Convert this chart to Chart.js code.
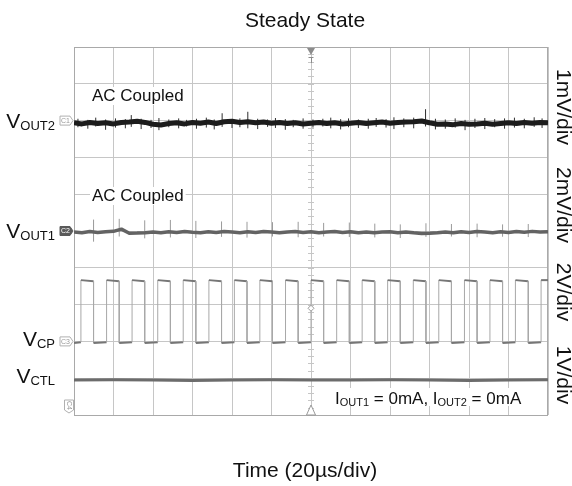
<!DOCTYPE html>
<html>
<head>
<meta charset="utf-8">
<title>Steady State</title>
<script src="https://cdn.jsdelivr.net/npm/chart.js@4.4.1/dist/chart.umd.min.js"></script>
<style>
  html, body { margin: 0; padding: 0; background: #fff; }
  #wrap { width: 572px; height: 486px; }
</style>
</head>
<body>
<div id="wrap"><canvas id="scope" width="572" height="486"></canvas></div>
<script>
// time base: 20 us/div, 12 divisions, trigger in the middle
const sampleTimes = [-120, -116, -112, -108, -104, -100, -96, -92, -88, -84, -80, -76, -72, -68, -64, -60,
  -56, -52, -48, -44, -40, -36, -32, -28, -24, -20, -16, -12, -8, -4, 0, 4, 8, 12, 16, 20, 24, 28, 32,
  36, 40, 44, 48, 52, 56, 60, 64, 68, 72, 76, 80, 84, 88, 92, 96, 100, 104, 108, 112, 116, 120];

// CH1 VOUT2, AC coupled, mV
const vout2Mv = [-0.06, -0.09, -0.05, -0.08, -0.06, -0.09, -0.05, -0.04, -0.02, -0.05, -0.10, -0.12,
  -0.08, -0.06, -0.09, -0.05, -0.07, -0.04, -0.08, -0.03, -0.02, -0.05, -0.03, -0.06, -0.04, -0.07,
  -0.05, -0.08, -0.06, -0.09, -0.07, -0.05, -0.08, -0.06, -0.09, -0.07, -0.05, -0.08, -0.06, -0.04,
  -0.07, -0.05, -0.04, -0.03, -0.01, -0.06, -0.10, -0.09, -0.11, -0.08, -0.10, -0.09, -0.07, -0.10,
  -0.08, -0.06, -0.08, -0.05, -0.07, -0.05, -0.06];
// noise hairs on VOUT2
const vout2HairTimes = [-118, -113, -109, -104, -99, -94, -91, -86, -81, -77, -72, -67, -63, -58, -53,
  -49, -45, -40, -36, -32, -27, -22, -18, -13, -9, -4, 1, 6, 10, 15, 19, 24, 29, 33, 38, 42, 47, 52,
  58, 63, 68, 73, 78, 83, 88, 93, 98, 103, 108, 113, 117];
const vout2HairHighMv = [0.05, 0.02, 0.08, 0.03, 0.06, 0.04, 0.15, 0.05, 0.02, 0.07, 0.03, 0.06, 0.02,
  0.05, 0.08, 0.03, 0.20, 0.04, 0.06, 0.24, 0.05, 0.03, 0.07, 0.04, 0.02, 0.06, 0.03, 0.05, 0.08, 0.04,
  0.06, 0.03, 0.05, 0.07, 0.04, 0.09, 0.06, 0.08, 0.31, 0.05, 0.03, 0.06, 0.02, 0.05, 0.07, 0.04, 0.06,
  0.08, 0.05, 0.09, 0.06];
const vout2HairLowMv = [-0.18, -0.22, -0.16, -0.25, -0.19, -0.21, -0.17, -0.23, -0.20, -0.26, -0.18,
  -0.21, -0.16, -0.22, -0.19, -0.24, -0.17, -0.20, -0.18, -0.21, -0.23, -0.17, -0.20, -0.25, -0.18,
  -0.22, -0.19, -0.16, -0.21, -0.24, -0.18, -0.20, -0.22, -0.17, -0.19, -0.23, -0.18, -0.21, -0.16,
  -0.24, -0.22, -0.19, -0.26, -0.20, -0.23, -0.18, -0.22, -0.19, -0.21, -0.17, -0.20];

// CH2 VOUT1, AC coupled, mV
const vout1Mv = [-0.05, -0.09, -0.03, -0.08, -0.04, -0.02, 0.10, -0.12, -0.11, -0.09, -0.05, -0.09,
  -0.04, -0.08, -0.03, -0.07, -0.09, -0.04, -0.08, -0.03, -0.06, -0.09, -0.04, -0.08, -0.03, -0.06,
  -0.10, -0.05, -0.03, -0.08, -0.04, -0.09, -0.05, -0.03, -0.08, -0.04, -0.09, -0.05, -0.10, -0.06,
  -0.04, -0.09, -0.05, -0.10, -0.13, -0.12, -0.09, -0.05, -0.09, -0.04, -0.08, -0.03, -0.06, -0.09,
  -0.04, -0.08, -0.03, -0.07, -0.02, -0.06, -0.04];
// switching spikes on VOUT1 (at VCP falling edges)
const vout1SpikeHighMv = [0.62, 0.66, 0.58, 0.60, 0.55, 0.52, 0.50, 0.48, 0.50, 0.44, 0.46, 0.40,
  0.36, 0.42, 0.38, 0.40, 0.36, 0.38];
const vout1SpikeLowMv = [-0.58, -0.30, -0.40, -0.35, -0.38, -0.32, -0.36, -0.30, -0.34, -0.30,
  -0.33, -0.35, -0.38, -0.32, -0.30, -0.34, -0.31, -0.33];

// CH3 VCP switching node, V
const vcpRisingUs = [-116.5, -103.5, -90.6, -77.6, -64.7, -51.7, -38.8, -25.9, -12.9, 0, 13.0, 25.9,
  38.8, 51.8, 64.7, 77.7, 90.6, 103.5, 116.5];
const vcpFallingUs = [-110.1, -97.1, -84.2, -71.2, -58.3, -45.3, -32.4, -19.5, -6.5, 6.4, 19.4, 32.3,
  45.2, 58.2, 71.1, 84.1, 97.0, 110.0];
const vcpHighV = [3.33, 3.27];   // start, end of each high phase
const vcpLowV = [-0.09, -0.04];  // start, end of each low phase
const vcpTriggerV = 1.8;

// CH4 VCTL, V
const vctlTimes = [-120, -100, -80, -60, -40, -20, 0, 20, 40, 60, 80, 100, 120];
const vctlV = [0.95, 0.96, 0.95, 0.94, 0.95, 0.96, 0.95, 0.95, 0.96, 0.95, 0.94, 0.95, 0.96];

// channel ground position (div from bottom) and units per div
const CH1 = { pos: 8, perDiv: 1 };
const CH2 = { pos: 5, perDiv: 2 };
const CH3 = { pos: 2, perDiv: 2 };
const CH4 = { pos: 0, perDiv: 1 };

const FONT = "'Liberation Sans', Arial, Helvetica, sans-serif";
const GRID = '#c6c6c6';

function trace(times, vals, ch) {
  return times.map((t, i) => ({ x: t, y: ch.pos + vals[i] / ch.perDiv }));
}

function spikes(times, lows, highs, ch) {
  const pts = [];
  times.forEach((t, i) => {
    pts.push({ x: t, y: ch.pos + lows[i] / ch.perDiv });
    pts.push({ x: t, y: ch.pos + highs[i] / ch.perDiv });
    pts.push({ x: t, y: null });
  });
  return pts;
}

function squareWave() {
  const pts = [{ x: -120, y: vcpLowV[0] }];
  vcpRisingUs.forEach((r, i) => {
    pts.push({ x: r, y: vcpLowV[1] }, { x: r, y: vcpHighV[0] });
    const f = vcpFallingUs[i];
    if (f !== undefined) {
      pts.push({ x: f, y: vcpHighV[1] }, { x: f, y: vcpLowV[0] });
    } else {
      pts.push({ x: 120, y: vcpHighV[0] });
    }
  });
  return pts.map(p => ({ x: p.x, y: CH3.pos + p.y / CH3.perDiv }));
}

function subText(ctx, parts, x, y, align) {
  // parts: [text, isSub]
  const widths = parts.map(p => {
    ctx.font = (p[1] ? 13 : 21) + 'px ' + FONT;
    return ctx.measureText(p[0]).width;
  });
  const total = widths.reduce((a, b) => a + b, 0);
  let cx = align === 'right' ? x - total : x;
  ctx.textAlign = 'left';
  ctx.textBaseline = 'alphabetic';
  parts.forEach((p, i) => {
    ctx.font = (p[1] ? 13 : 21) + 'px ' + FONT;
    ctx.fillText(p[0], cx, p[1] ? y + 2 : y);
    cx += widths[i];
  });
  return total;
}

function tag(ctx, xr, yc, label, filled) {
  const w = 13, h = 9, tip = 3;
  ctx.beginPath();
  ctx.moveTo(xr - w, yc - h / 2);
  ctx.lineTo(xr - tip, yc - h / 2);
  ctx.lineTo(xr, yc);
  ctx.lineTo(xr - tip, yc + h / 2);
  ctx.lineTo(xr - w, yc + h / 2);
  ctx.closePath();
  ctx.fillStyle = filled ? '#5a5a5a' : '#fff';
  ctx.fill();
  ctx.lineWidth = 1;
  ctx.strokeStyle = filled ? '#5a5a5a' : '#b0b0b0';
  ctx.stroke();
  ctx.font = '7px ' + FONT;
  ctx.fillStyle = filled ? '#fff' : '#999';
  ctx.textAlign = 'center';
  ctx.textBaseline = 'middle';
  ctx.fillText(label, xr - w / 2 - 1, yc + 0.5);
}

const scopeDecor = {
  id: 'scopeDecor',
  beforeDatasetsDraw(chart) {
    const { ctx, chartArea: a, scales: { x, y } } = chart;
    ctx.save();
    // minor ticks on the centre graticule line
    const cx = x.getPixelForValue(0);
    ctx.strokeStyle = GRID;
    ctx.lineWidth = 1;
    for (let v = 0.2; v < 10; v += 0.2) {
      const py = Math.round(y.getPixelForValue(v)) + 0.5;
      ctx.beginPath();
      ctx.moveTo(cx - 3, py);
      ctx.lineTo(cx + 3, py);
      ctx.stroke();
    }
    ctx.strokeStyle = '#a9a9a9';
    ctx.strokeRect(a.left + 0.5, a.top + 0.5, a.right - a.left - 1, a.bottom - a.top);
    ctx.restore();
  },
  afterDraw(chart) {
    const { ctx, chartArea: a, scales: { x, y } } = chart;
    const cx = x.getPixelForValue(0);
    ctx.save();

    // titles
    ctx.fillStyle = '#111';
    ctx.font = '21px ' + FONT;
    ctx.textAlign = 'center';
    ctx.textBaseline = 'alphabetic';
    ctx.fillText('Steady State', 305, 27);
    ctx.fillText('Time (20\u00b5s/div)', 305, 477);

    // AC coupled notes
    ctx.font = '17px ' + FONT;
    ctx.textAlign = 'left';
    [101, 201].forEach(b => {
      const w = ctx.measureText('AC Coupled').width;
      ctx.fillStyle = '#fff';
      ctx.fillRect(90, b - 14, w + 4, 18);
      ctx.fillStyle = '#111';
      ctx.fillText('AC Coupled', 92, b);
    });

    // load current note
    const parts = [['I', 0], ['OUT1', 1], [' = 0mA, I', 0], ['OUT2', 1], [' = 0mA', 0]];
    const w = parts.reduce((s, p) => {
      ctx.font = (p[1] ? 11 : 17) + 'px ' + FONT;
      return s + ctx.measureText(p[0]).width;
    }, 0);
    ctx.fillStyle = '#fff';
    ctx.fillRect(330, 388, w + 9, 18);
    ctx.fillStyle = '#111';
    let px = 335;
    parts.forEach(p => {
      ctx.font = (p[1] ? 11 : 17) + 'px ' + FONT;
      ctx.fillText(p[0], px, p[1] ? 406 : 404);
      px += ctx.measureText(p[0]).width;
    });

    // channel labels on the left
    ctx.fillStyle = '#111';
    subText(ctx, [['V', 0], ['OUT2', 1]], 55, y.getPixelForValue(CH1.pos) + 7.5, 'right');
    subText(ctx, [['V', 0], ['OUT1', 1]], 55, y.getPixelForValue(CH2.pos) + 6.5, 'right');
    subText(ctx, [['V', 0], ['CP', 1]], 55, y.getPixelForValue(CH3.pos) + 4.5, 'right');
    subText(ctx, [['V', 0], ['CTL', 1]], 55, 383, 'right');

    // channel ground tags
    tag(ctx, a.left - 1, y.getPixelForValue(CH1.pos), 'C1', false);
    tag(ctx, a.left - 1, y.getPixelForValue(CH2.pos), 'C2', true);
    tag(ctx, a.left - 1, y.getPixelForValue(CH3.pos), 'C3', false);
    ctx.save();
    ctx.translate(a.left - 5, a.bottom - 12);
    ctx.rotate(Math.PI / 2);
    tag(ctx, 10, 0, 'C4', false);
    ctx.restore();

    // volts/div, rotated on the right
    ctx.fillStyle = '#111';
    ctx.font = '21px ' + FONT;
    ctx.textAlign = 'center';
    ctx.textBaseline = 'middle';
    [['1mV/div', 107], ['2mV/div', 205], ['2V/div', 292], ['1V/div', 375]].forEach(([t, cy]) => {
      ctx.save();
      ctx.translate(563, cy);
      ctx.rotate(Math.PI / 2);
      ctx.fillText(t, 0, 0);
      ctx.restore();
    });

    // trigger position marker (top)
    ctx.fillStyle = '#8c8c8c';
    ctx.beginPath();
    ctx.moveTo(cx - 4, a.top + 1);
    ctx.lineTo(cx + 4, a.top + 1);
    ctx.lineTo(cx, a.top + 8);
    ctx.closePath();
    ctx.fill();
    ctx.strokeStyle = '#8c8c8c';
    ctx.lineWidth = 1;
    ctx.beginPath();
    ctx.moveTo(cx - 2.5, a.top + 10.5);
    ctx.lineTo(cx + 2.5, a.top + 10.5);
    ctx.moveTo(cx + 0.5, a.top + 10);
    ctx.lineTo(cx + 0.5, a.top + 16);
    ctx.stroke();

    // trigger level diamond
    const ty = y.getPixelForValue(CH3.pos + vcpTriggerV / CH3.perDiv);
    ctx.strokeStyle = '#9a9a9a';
    ctx.fillStyle = '#fff';
    ctx.beginPath();
    ctx.moveTo(cx, ty - 3);
    ctx.lineTo(cx + 3, ty);
    ctx.lineTo(cx, ty + 3);
    ctx.lineTo(cx - 3, ty);
    ctx.closePath();
    ctx.fill();
    ctx.stroke();

    // bottom trigger marker
    ctx.beginPath();
    ctx.moveTo(cx, a.bottom - 10);
    ctx.lineTo(cx + 4.5, a.bottom);
    ctx.lineTo(cx - 4.5, a.bottom);
    ctx.closePath();
    ctx.fill();
    ctx.stroke();

    ctx.restore();
  }
};

const vertical = c => c.p0.parsed.x === c.p1.parsed.x;

new Chart(document.getElementById('scope'), {
  type: 'line',
  data: {
    datasets: [
      { label: 'VOUT2', data: trace(sampleTimes, vout2Mv, CH1), borderColor: '#1c1c1c', borderWidth: 5, borderJoinStyle: 'round' },
      { label: 'VOUT2 noise', data: spikes(vout2HairTimes, vout2HairLowMv, vout2HairHighMv, CH1), borderColor: '#2e2e2e', borderWidth: 1, spanGaps: false },
      { label: 'VOUT1', data: trace(sampleTimes, vout1Mv, CH2), borderColor: '#636363', borderWidth: 3.5, borderJoinStyle: 'round' },
      { label: 'VOUT1 spikes', data: spikes(vcpFallingUs, vout1SpikeLowMv, vout1SpikeHighMv, CH2), borderColor: '#9a9a9a', borderWidth: 1, spanGaps: false },
      { label: 'VCTL', data: trace(vctlTimes, vctlV, CH4), borderColor: '#6c6c6c', borderWidth: 3 },
      {
        label: 'VCP', data: squareWave(), borderColor: '#757575', borderWidth: 2,
        segment: {
          borderWidth: c => vertical(c) ? 1 : 2,
          borderColor: c => vertical(c) ? '#a8a8a8' : '#767676'
        }
      }
    ]
  },
  options: {
    responsive: false,
    animation: false,
    devicePixelRatio: 1,
    events: [],
    layout: { padding: { left: 74, right: 24, top: 47, bottom: 71 } },
    elements: { point: { radius: 0 }, line: { tension: 0 } },
    plugins: { legend: { display: false }, tooltip: { enabled: false }, title: { display: false } },
    scales: {
      x: {
        type: 'linear', min: -120, max: 120,
        ticks: { display: false, stepSize: 20 },
        grid: { color: GRID, lineWidth: 1, drawTicks: false },
        border: { display: false }
      },
      y: {
        type: 'linear', min: 0, max: 10,
        ticks: { display: false, stepSize: 1 },
        grid: { color: GRID, lineWidth: 1, drawTicks: false },
        border: { display: false }
      }
    }
  },
  plugins: [scopeDecor]
});
</script>
</body>
</html>
